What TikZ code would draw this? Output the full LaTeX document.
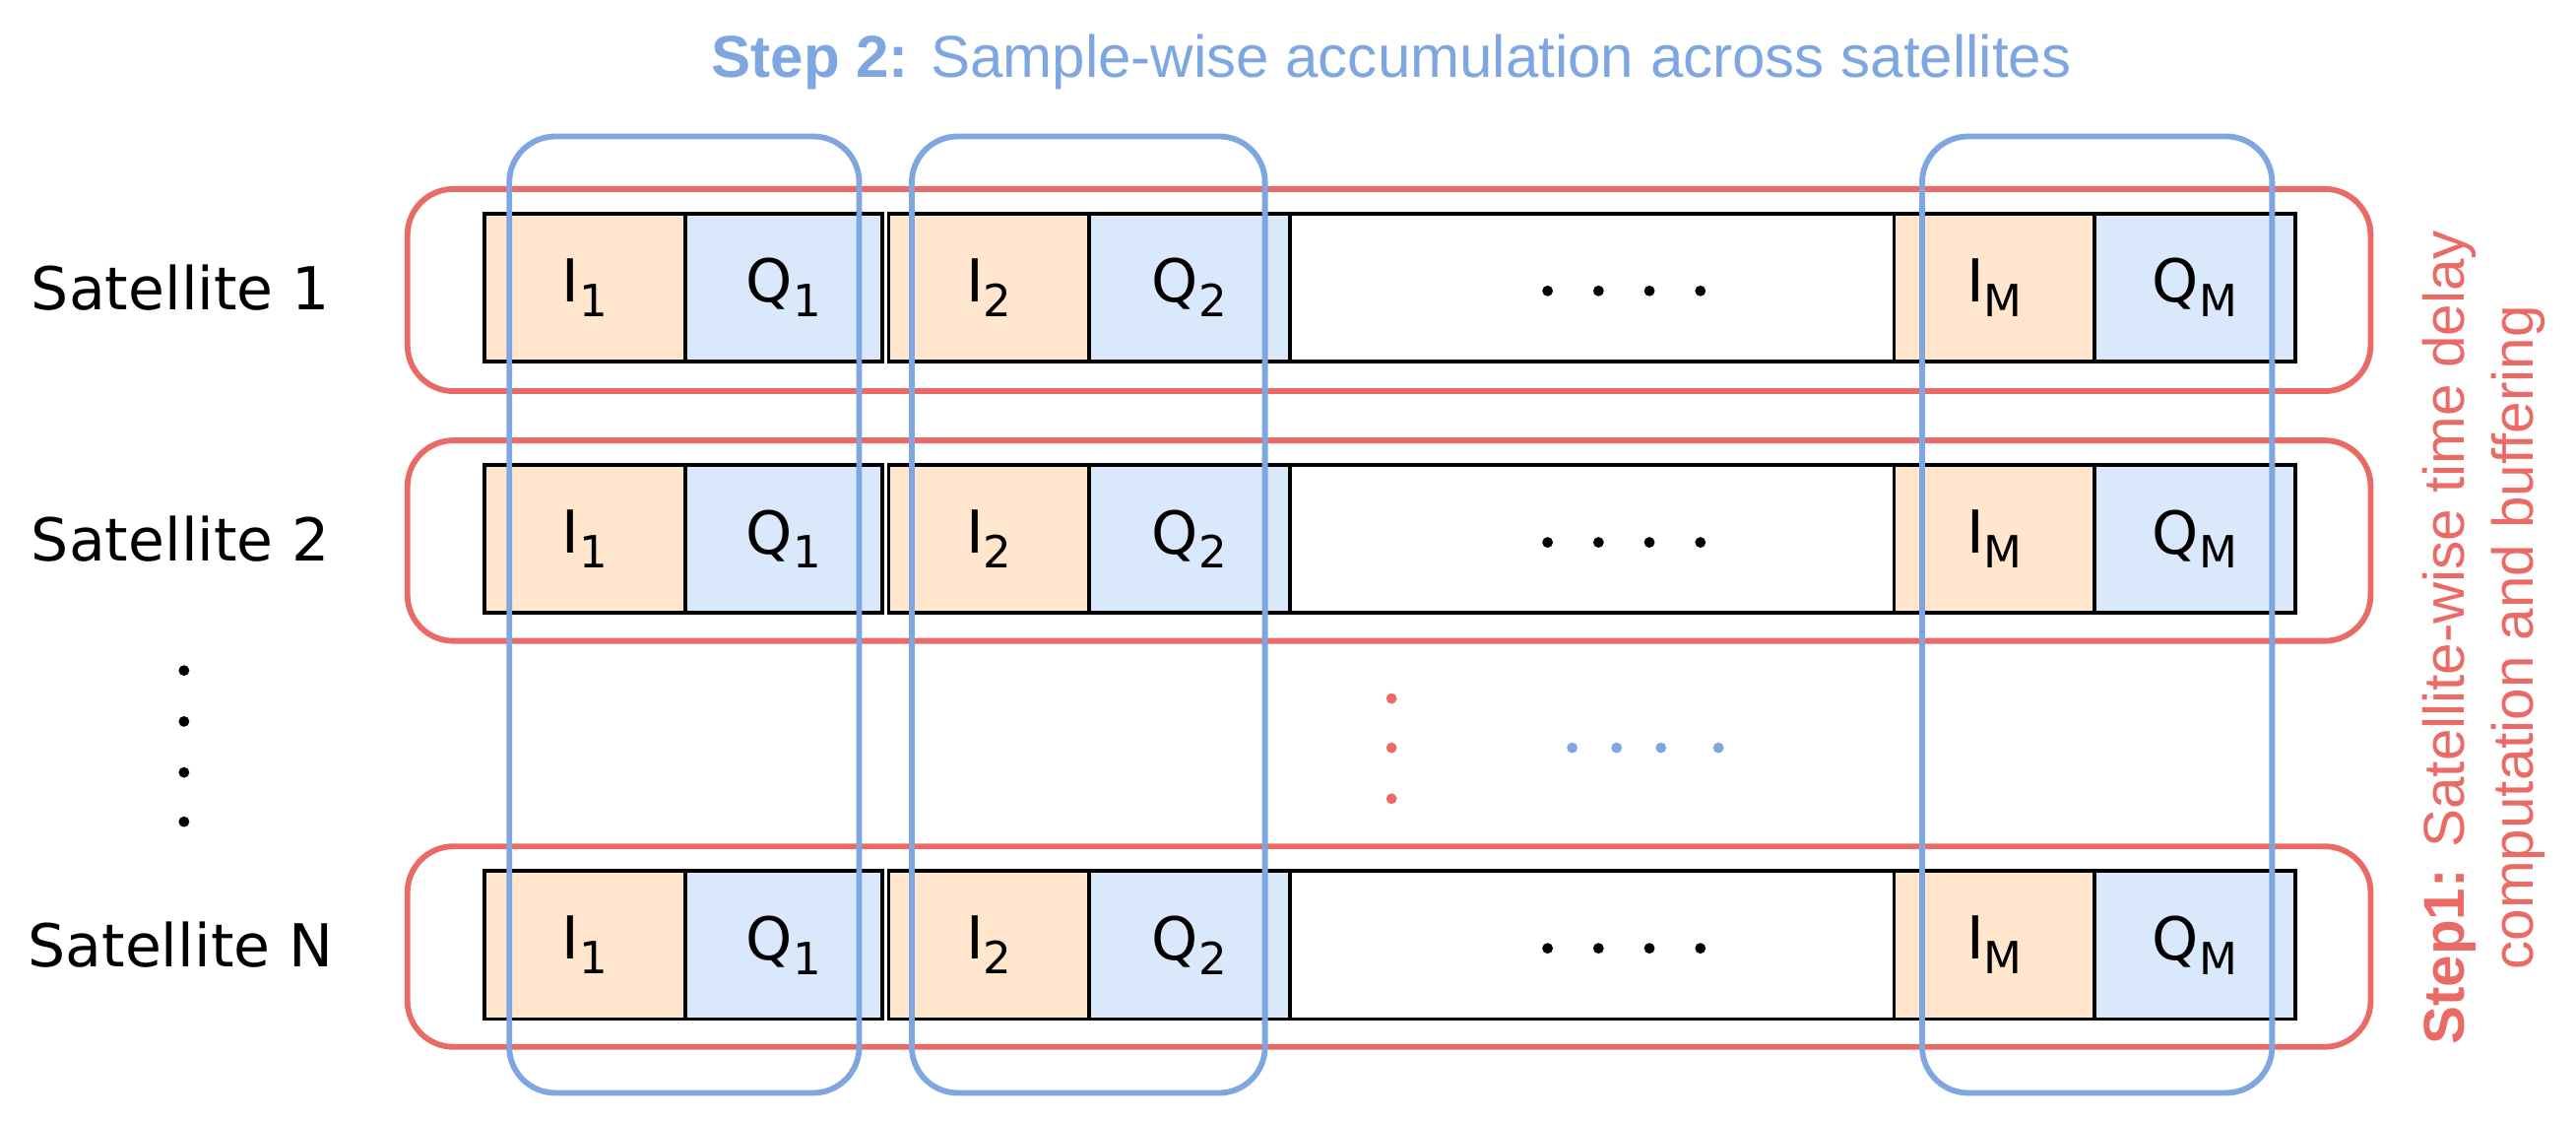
\documentclass[tikz,border=0pt]{standalone}
\usepackage{fontspec}
\setmainfont{DejaVu Sans}
\newfontfamily\arl{Liberation Sans}
\definecolor{rd}{RGB}{234,107,102}
\definecolor{bl}{RGB}{126,166,224}
\definecolor{fo}{HTML}{FFE6CC}
\definecolor{fb}{HTML}{DAE8FC}
\newcommand{\sbs}[1]{\raisebox{-0.45ex}{\fontsize{27}{28}\selectfont #1}}
\begin{document}
\begin{tikzpicture}[x=1pt,y=-1pt,
 cell/.style={draw=black,line width=2.2pt,minimum height=90pt,inner sep=0pt,font=\fontsize{36}{38}\selectfont},
 lab/.style={font=\fontsize{36}{38}\selectfont,anchor=center},
 rr/.style={draw=rd,line width=3.5pt,rounded corners=28pt},
 br/.style={draw=bl,line width=3.5pt,rounded corners=28pt},
 dot/.style={circle,inner sep=0pt,minimum size=6.5pt}]
\useasboundingbox (0,0) rectangle (1568,682);
\foreach \r/\y/\s in {a/175/1,b/328/2,c/575/N}{
 \node[lab] (s\r) at (110,\y) {Satellite \s};
 \node[cell,fill=fo,minimum width=122pt] (i1\r) at (356,\y) {I\sbs{1}};
 \node[cell,fill=fb,minimum width=120pt] (q1\r) at (477,\y) {Q\sbs{1}};
 \node[cell,fill=fo,minimum width=122pt] (i2\r) at (602,\y) {I\sbs{2}};
 \node[cell,fill=fb,minimum width=122pt] (q2\r) at (724,\y) {Q\sbs{2}};
 \node[cell,minimum width=368pt] (e\r) at (969,\y) {};
 \node[cell,fill=fo,minimum width=122pt] (im\r) at (1214,\y) {I\sbs{M}};
 \node[cell,fill=fb,minimum width=122pt] (qm\r) at (1336,\y) {Q\sbs{M}};
 \foreach \k in {0,1,2,3} \node[dot,fill=black] at (942+31*\k,\y+2) {};
}
\draw[rr] (248,115) rectangle (1443,238);
\draw[rr] (248,268) rectangle (1443,390);
\draw[rr] (248,515) rectangle (1443,637);
\draw[br] (310,83) rectangle (523,665);
\draw[br] (555,83) rectangle (770,665);
\draw[br] (1170,83) rectangle (1383,665);
\foreach \yy in {408,439,470,500} \node[dot,fill=black] at (112,\yy) {};
\foreach \yy in {425,455,486} \node[dot,fill=rd] at (847,\yy) {};
\foreach \xx in {957,984,1011,1046} \node[dot,fill=bl] at (\xx,455) {};
\node[font=\arl\fontsize{36}{38}\selectfont,text=bl] (t2) at (847,38) {\textbf{Step 2:} Sample-wise accumulation across satellites};
\node[font=\arl\fontsize{35}{42}\selectfont,text=rd,rotate=90,align=center] (t1) at (1512,388) {\textbf{Step1:} Satellite-wise time delay\\computation and buffering};
\end{tikzpicture}
\end{document}
